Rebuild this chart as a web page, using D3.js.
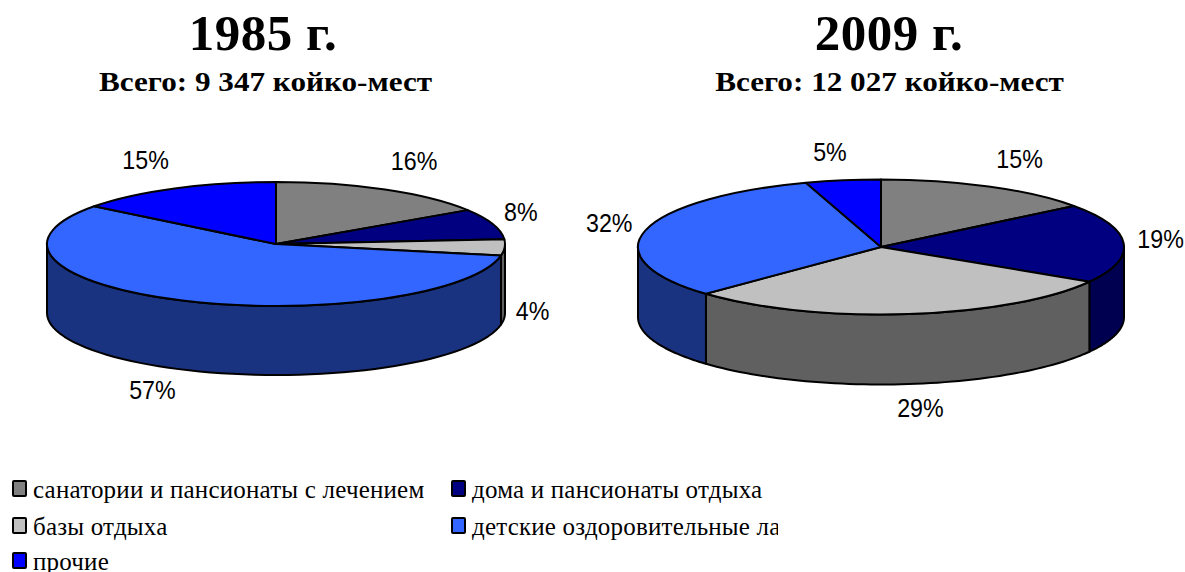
<!DOCTYPE html>
<html lang="en">

  <head>
    <meta charset="utf-8">
    <title>Койко-места 1985 и 2009</title>
    <script src="https://cdnjs.cloudflare.com/ajax/libs/d3/7.8.5/d3.min.js" charset="utf-8"></script>
    <style type="text/css">
    html, body { margin: 0; padding: 0; background: #fff; overflow: hidden; }
    svg { display: block; }
    </style>
  </head>

  <body>
    <script type="text/javascript">
    //Width and height
    var w = 1185;
    var h = 572;

    // data, slice sizes estimated from the rim so they round to the printed labels
    var categories = [
      "санатории и пансионаты с лечением",
      "дома и пансионаты отдыха",
      "базы отдыха",
      "детские оздоровительные лагеря",
      "прочие"
    ];
    var values1985 = [15.8, 8.0, 4.2, 57.4, 14.6];
    var values2009 = [14.6, 19.0, 29.2, 32.2, 5.0];
    var titles = ["1985 г.", "2009 г."];
    var subtitles = ["Всего: 9 347 койко-мест", "Всего: 12 027 койко-мест"];
    var colors = ["#808080", "#000080", "#c0c0c0", "#3366ff", "#0000ff"];
    var wallColors = ["#404040", "#000050", "#606060", "#1a3380", "#000080"];

    // layout of each 3d pie, labels were dragged by hand in the original so they get their own nudges
    var pies = [
      { values: values1985, cx: 276, cy: 244, rx: 229, ry: 62, depth: 69, titleX: 263, subX: 265.5,
        nudge: [[29, -28], [28, -12], [28, 63], [-30, 89], [-29, -28]] },
      { values: values2009, cx: 881, cy: 247, rx: 243, ry: 67.5, depth: 70, titleX: 889, subX: 889.5,
        nudge: [[31, -27], [37, -4], [12, 94], [-36, -8], [-13, -28]] }
    ];

    var svg = d3.select("body")
      .append("svg")
      .attr("width", w)
      .attr("height", h);

    var pie = d3.pie().sort(null).value(function(d) { return d; });
    var R = 100;
    var arc = d3.arc().innerRadius(0).outerRadius(R);
    var line = d3.line();

    function drawPie(p, n) {
      var slices = pie(p.values);
      var g = svg.append("g");

      // x/y on the tilted rim for an angle measured clockwise from 12 o'clock
      function rim(a, drop) {
        return [p.cx + p.rx * Math.sin(a), p.cy - p.ry * Math.cos(a) + drop];
      }

      // side walls: only the part of a slice that faces the front
      slices.forEach(function(s, i) {
        var a0 = Math.max(s.startAngle, Math.PI / 2);
        var a1 = Math.min(s.endAngle, Math.PI * 1.5);
        if (a1 <= a0) return;
        var steps = d3.range(0, 61).map(function(k) { return a0 + (a1 - a0) * k / 60; });
        var pts = steps.map(function(a) { return rim(a, 0); })
          .concat(steps.slice().reverse().map(function(a) { return rim(a, p.depth); }));
        g.append("path")
          .attr("d", line(pts) + "Z")
          .attr("fill", wallColors[i])
          .attr("stroke", "#000")
          .attr("stroke-width", 2)
          .attr("stroke-linejoin", "round");
      });

      // top of the pie, a flat d3 arc squashed into an ellipse
      g.selectAll("path.top")
        .data(slices)
        .enter()
        .append("path")
        .attr("class", "top")
        .attr("d", arc)
        .attr("transform", "translate(" + p.cx + "," + p.cy + ") scale(" + (p.rx / R) + "," + (p.ry / R) + ")")
        .attr("fill", function(d, i) { return colors[i]; })
        .attr("stroke", "#000")
        .attr("stroke-width", 2)
        .attr("stroke-linejoin", "round")
        .attr("vector-effect", "non-scaling-stroke");

      // the labels in the original are a bit squeezed sideways
      g.selectAll("text.pct")
        .data(slices)
        .enter()
        .append("text")
        .attr("class", "pct")
        .text(function(d) { return Math.round(d.value) + "%"; })
        .attr("transform", function(d, i) {
          var pt = rim((d.startAngle + d.endAngle) / 2, 0);
          return "translate(" + (pt[0] + p.nudge[i][0]) + "," + (pt[1] + p.nudge[i][1] + 9) + ") scale(0.93,1)";
        })
        .attr("text-anchor", "middle")
        .attr("font-family", "'Liberation Sans'")
        .attr("font-size", "25px")
        .attr("fill", "#000");

      svg.append("text")
        .text(titles[n])
        .attr("x", p.titleX)
        .attr("y", 50)
        .attr("text-anchor", "middle")
        .attr("font-family", "'Liberation Serif'")
        .attr("font-weight", "bold")
        .attr("font-size", "51px")
        .attr("letter-spacing", "0.5px");

      // subtitle is stretched sideways in the original
      svg.append("text")
        .text(subtitles[n])
        .attr("transform", "translate(" + p.subX + ",91) scale(1.155,1)")
        .attr("text-anchor", "middle")
        .attr("font-family", "'Liberation Serif'")
        .attr("font-weight", "bold")
        .attr("font-size", "27px");
    }

    pies.forEach(drawPie);

    // legend, the last entry runs into the edge of its box like the original
    svg.append("clipPath")
      .attr("id", "legendClip")
      .append("rect")
      .attr("x", 0)
      .attr("y", 470)
      .attr("width", 778)
      .attr("height", 102);

    var legendX = d3.scaleOrdinal().domain([0, 1]).range([12, 451]);
    var legendY = d3.scaleOrdinal().domain([0, 1, 2]).range([489, 526, 561]);

    var legend = svg.append("g")
      .attr("clip-path", "url(#legendClip)")
      .selectAll("g")
      .data(categories)
      .enter()
      .append("g")
      .attr("transform", function(d, i) {
        return "translate(" + legendX(i % 2) + "," + legendY(Math.floor(i / 2)) + ")";
      });

    legend.append("rect")
      .attr("x", 1)
      .attr("y", -8)
      .attr("width", 13)
      .attr("height", 15)
      .attr("rx", 1)
      .attr("fill", function(d, i) { return colors[i]; })
      .attr("stroke", "#000")
      .attr("stroke-width", 2);

    legend.append("text")
      .text(function(d) { return d; })
      .attr("x", 21)
      .attr("y", 9)
      .attr("font-family", "'Liberation Serif'")
      .attr("font-size", "25px")
      .attr("letter-spacing", "0.2px")
      .attr("fill", "#000");
    </script>
  </body>

</html>
